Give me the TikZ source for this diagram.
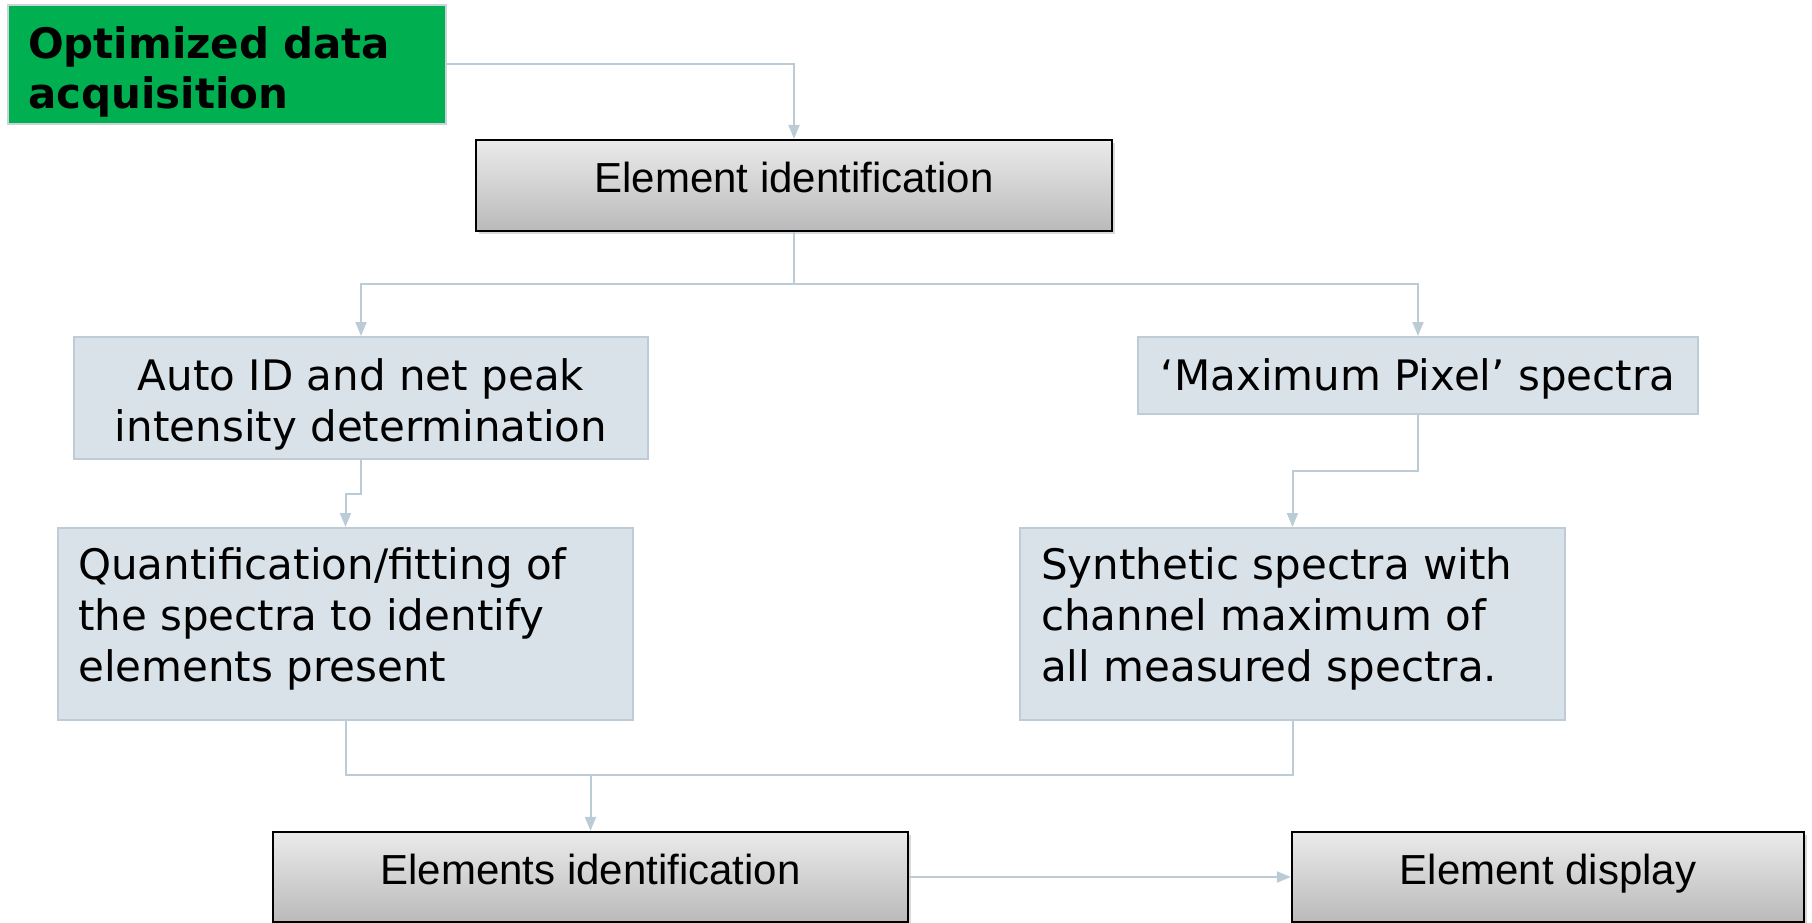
\documentclass[tikz,border=0pt]{standalone}
\usepackage{fontspec}
\setmainfont{DejaVu Sans}
\newfontfamily\arialf{Liberation Sans}
\usetikzlibrary{arrows.meta,shadows}
\definecolor{conncol}{HTML}{BCCCD7}
\definecolor{bluefill}{HTML}{DAE2E9}
\definecolor{blueline}{HTML}{BDCCD7}
\definecolor{accgreen}{HTML}{00B050}
\definecolor{greenline}{HTML}{C8D4DC}
\begin{document}
\begin{tikzpicture}[x=1pt,y=-1pt,
  conn/.style={draw=conncol, line width=2pt, -{Triangle[length=14pt,width=11pt]}},
  plainconn/.style={draw=conncol, line width=2pt},
  graybox/.style={draw=black, line width=2.2pt, top color=black!8, bottom color=black!27,
    drop shadow={shadow xshift=3pt, shadow yshift=-3pt, opacity=0.3},
    font=\arialf\fontsize{42}{50}\selectfont, text depth=16pt, inner sep=0pt},
  bluebox/.style={draw=blueline, fill=bluefill, line width=2pt, inner sep=0pt,
    font=\fontsize{42}{51}\selectfont},
  boxtext/.style={inner sep=0pt, align=left, font=\fontsize{42}{51}\selectfont},
  greenbox/.style={draw=greenline, fill=accgreen, line width=2pt, inner sep=0pt},
  greentext/.style={inner sep=0pt, align=left, font=\bfseries\fontsize{42}{50}\selectfont},
]
\useasboundingbox (0,0) rectangle (1812,923);

% nodes
\node[greenbox, minimum width=438pt, minimum height=119pt] (acq) at (227,64.5) {};
\node[greentext, text width=398pt] (acqtext) at (227,71.5) {Optimized data\\acquisition};

\node[graybox, minimum width=636pt, minimum height=91pt] (eid) at (794,185.5) {Element identification};

\node[bluebox, minimum width=574pt, minimum height=122pt] (autoid) at (361,398) {};
\node[boxtext, align=center] (autoidtext) at (361,404)
  {Auto ID and net peak\\intensity determination};

\node[bluebox, minimum width=560pt, minimum height=77pt, text height=40pt, text depth=10pt] (maxpix) at (1418,375.5)
  {‘Maximum Pixel’ spectra};

\node[bluebox, minimum width=575pt, minimum height=192pt] (quant) at (345.5,624) {};
\node[boxtext, anchor=base west] (quanttext) at (78,681)
  {Quantification/fitting of\\the spectra to identify\\elements present};

\node[bluebox, minimum width=545pt, minimum height=192pt] (synth) at (1292.5,624) {};
\node[boxtext, anchor=base west] (synthtext) at (1041,681)
  {Synthetic spectra with\\channel maximum of\\all measured spectra.};

\node[graybox, minimum width=635pt, minimum height=90pt] (eids) at (590.5,877) {Elements identification};
\node[graybox, minimum width=512pt, minimum height=90pt] (edisp) at (1548,877) {Element display};

% connectors
\draw[conn] (acq.east) -| (eid.north);
\coordinate (split) at (794,284);
\draw[plainconn] (eid.south) -- (split);
\draw[conn] (split) -| (autoid.north);
\draw[conn] (split) -| (maxpix.north);
\draw[conn] (autoid.south) -- ++(0,34) -| (quant.north);
\draw[conn] (maxpix.south) -- ++(0,56) -| (synth.north);
\coordinate (merge) at (590.5,775);
\draw[plainconn] (quant.south) |- (merge) -| (synth.south);
\draw[conn] (merge) -- (eids.north);
\draw[conn] (eids.east) -- (edisp.west);
\end{tikzpicture}
\end{document}
